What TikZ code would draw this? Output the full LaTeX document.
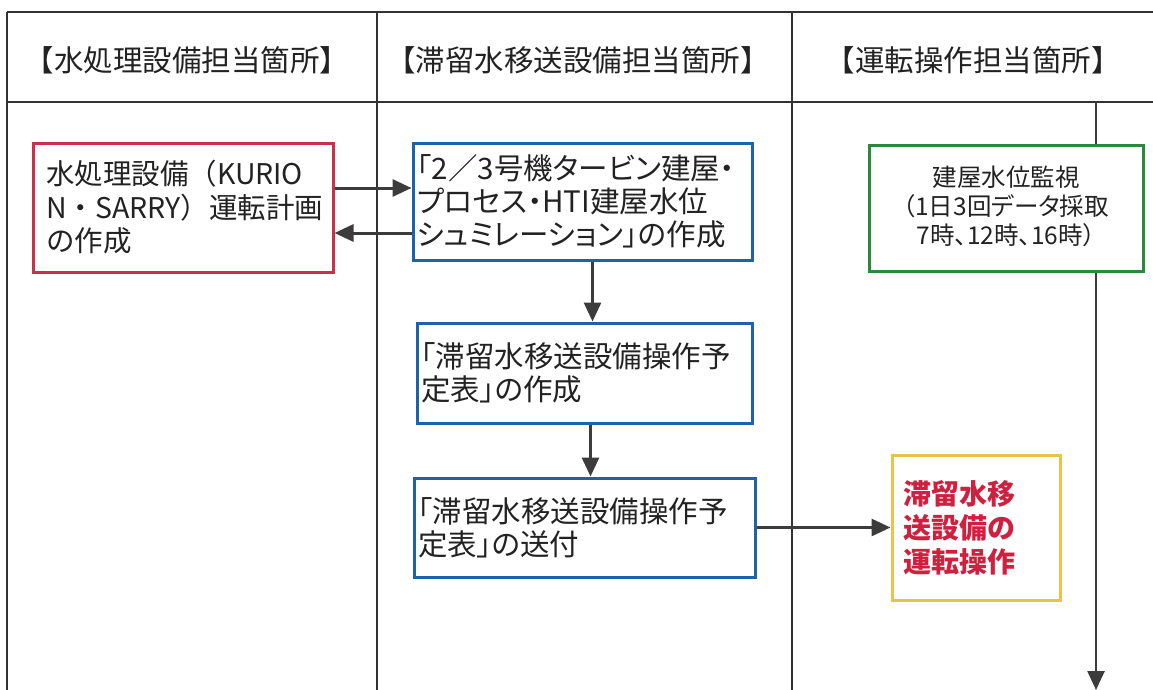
\documentclass[tikz,border=0pt]{standalone}
\usepackage{fontspec}
\setmainfont{Noto Sans CJK JP}
\newfontfamily\pfont[RawFeature=+palt]{Noto Sans CJK JP}
\usetikzlibrary{arrows.meta,calc}
\definecolor{lineg}{HTML}{333333}
\definecolor{arrg}{HTML}{3C3C3C}
\definecolor{txtg}{HTML}{222222}
\definecolor{redb}{HTML}{C8304C}
\definecolor{blueb}{HTML}{1F62AA}
\definecolor{greenb}{HTML}{2A8A3C}
\definecolor{yellowb}{HTML}{E9C44A}
\definecolor{redt}{HTML}{D0203F}
\tikzset{
  grid/.style={draw=lineg, line width=1.6pt},
  hdr/.style={font=\fontsize{29.5}{32}\selectfont, text=txtg},
  fbox/.style={draw, line width=3pt, rectangle, inner ysep=0pt, align=left,
    font=\pfont\fontsize{29.5}{33}\selectfont, text=txtg},
  arr/.style={draw=arrg, line width=3pt, -{Triangle[length=19pt,width=17pt]}},
}
\begin{document}
\begin{tikzpicture}[x=1pt,y=-1pt]
\useasboundingbox (0,0) rectangle (1153,690);
% table
\coordinate (tl) at (7,12);
\coordinate (tr) at (1153,12);
\coordinate (hl) at (7,102);
\coordinate (hr) at (1153,102);
\coordinate (bl) at (7,690);
\coordinate (d1t) at (377,12);
\coordinate (d1b) at (377,690);
\coordinate (d2t) at (792,12);
\coordinate (d2b) at (792,690);
\draw[grid] (tl) -- (tr);
\draw[grid] (hl) -- (hr);
\draw[grid] (tl) -- (bl);
\draw[grid] (d1t) -- (d1b);
\draw[grid] (d2t) -- (d2b);
% headers
\node[hdr] (h1) at (187,60) {【水処理設備担当箇所】};
\node[hdr] (h2) at (578,60) {【滞留水移送設備担当箇所】};
\node[hdr] (h3) at (973,60) {【運転操作担当箇所】};
% boxes
\node[fbox, draw=redb, minimum width=300pt, minimum height=129pt, text width=274pt, inner xsep=13pt,
  font=\fontsize{28.5}{33.5}\selectfont]
  (red) at (183,207.5) {水処理設備（KURIO\\N・SARRY）運転計画\\の作成};
\node[fbox, draw=blueb, minimum width=339pt, minimum height=117pt, text width=331pt, inner xsep=4pt]
  (b1) at (582.5,201.5) {「2／3号機タービン建屋・\\プロセス・HTI建屋水位\\シュミレーション」の作成};
\node[fbox, draw=blueb, minimum width=335pt, minimum height=100pt, text width=327pt, inner xsep=4pt]
  (b2) at (584.5,373) {「滞留水移送設備操作予\\定表」の作成};
\node[fbox, draw=blueb, minimum width=341pt, minimum height=99pt, text width=333pt, inner xsep=4pt]
  (b3) at (584.5,527.5) {「滞留水移送設備操作予\\定表」の送付};
\node[fbox, draw=greenb, minimum width=274pt, minimum height=126pt, align=center, text depth=7pt,
  font=\pfont\fontsize{24.5}{29}\selectfont]
  (grn) at (1006,208.5) {建屋水位監視\\（1日3回データ採取\\7時、12時、16時）};
\node[fbox, draw=yellowb, minimum width=168pt, minimum height=145pt, text width=146pt, inner xsep=11pt,
  font=\fontsize{28}{34}\selectfont\bfseries, text=redt]
  (yel) at (976,527.5) {滞留水移\\送設備の\\運転操作};
% connectors
\draw[arr] (red.east |- 0,188) -- (b1.west |- 0,188);
\draw[arr] (b1.west |- 0,233) -- (red.east |- 0,233);
\draw[arr] ([xshift=10pt]b1.south) -- ([xshift=10pt]b1.south |- b2.north);
\draw[arr] ([xshift=6pt]b2.south) -- ([xshift=6pt]b2.south |- b3.north);
\draw[arr] (b3.east) -- (yel.west);
\coordinate (vtop) at (1096,102);
\coordinate (vbot) at (1096,690);
\draw[draw=arrg, line width=2.5pt] (vtop) -- (vtop |- grn.north);
\draw[arr, line width=2.5pt] (vtop |- grn.south) -- (vbot);
\end{tikzpicture}
\end{document}
